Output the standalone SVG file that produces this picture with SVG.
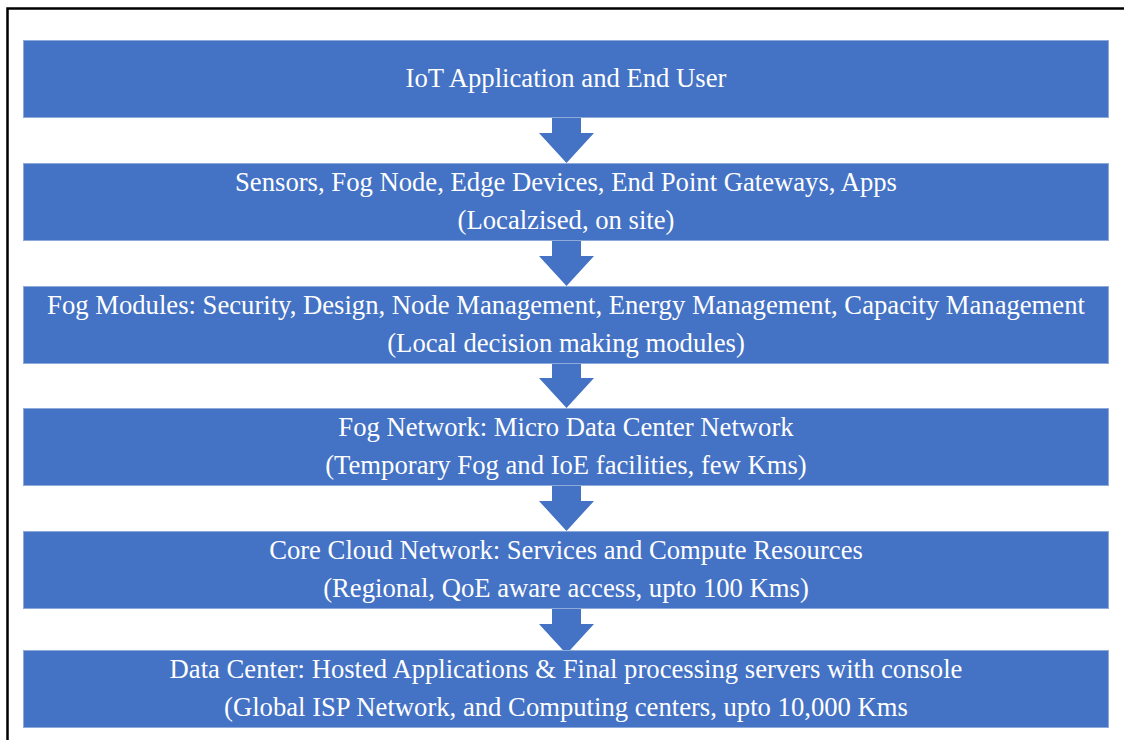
<svg xmlns="http://www.w3.org/2000/svg" width="1124" height="740" viewBox="0 0 1124 740">
<style>
.box{fill:#4472C4;stroke:#8eaadb;stroke-width:1}
.t{font-family:"Liberation Serif","Times New Roman",serif;font-size:26.67px;fill:#ffffff;text-anchor:middle}
.arr{fill:#4472C4}
</style>
<rect width="1124" height="740" fill="#ffffff"/>
<path d="M7.5,740 V8.5 H1124" fill="none" stroke="#000" stroke-width="2.5"/>
<g id="connectors">
<path class="arr" d="M552,118 H581 V133 H594 L566.5,163 L539,133 H552 Z"/>
<path class="arr" d="M552,241 H581 V256 H594 L566.5,286 L539,256 H552 Z"/>
<path class="arr" d="M552,363 H581 V378 H594 L566.5,408 L539,378 H552 Z"/>
<path class="arr" d="M552,486 H581 V501 H594 L566.5,531 L539,501 H552 Z"/>
<path class="arr" d="M552,609 H581 V624 H594 L566.5,654 L539,624 H552 Z"/>
</g>
<g id="n1"><rect class="box" x="23.5" y="40.5" width="1085" height="77"/><text class="t" x="566" y="87">IoT Application and End User</text></g>
<g id="n2"><rect class="box" x="23.5" y="163.5" width="1085" height="77"/><text class="t" x="566" y="191">Sensors, Fog Node, Edge Devices, End Point Gateways, Apps</text><text class="t" x="566" y="229">(Localzised, on site)</text></g>
<g id="n3"><rect class="box" x="23.5" y="286.5" width="1085" height="77"/><text class="t" x="566" y="314">Fog Modules: Security, Design, Node Management, Energy Management, Capacity Management</text><text class="t" x="566" y="352">(Local decision making modules)</text></g>
<g id="n4"><rect class="box" x="23.5" y="408.5" width="1085" height="77"/><text class="t" x="566" y="436">Fog Network: Micro Data Center Network</text><text class="t" x="566" y="474">(Temporary Fog and IoE facilities, few Kms)</text></g>
<g id="n5"><rect class="box" x="23.5" y="531.5" width="1085" height="77"/><text class="t" x="566" y="559">Core Cloud Network: Services and Compute Resources</text><text class="t" x="566" y="597">(Regional, QoE aware access, upto 100 Kms)</text></g>
<g id="n6"><rect class="box" x="23.5" y="650.5" width="1085" height="77"/><text class="t" x="566" y="678">Data Center: Hosted Applications &amp; Final processing servers with console</text><text class="t" x="566" y="716">(Global ISP Network, and Computing centers, upto 10,000 Kms</text></g>
</svg>
